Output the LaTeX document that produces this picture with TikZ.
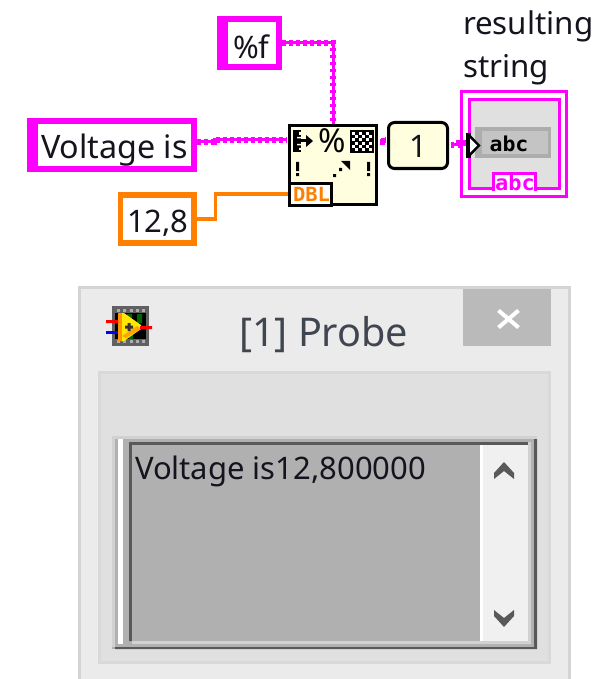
\documentclass[tikz,border=0pt]{standalone}
\usepackage{fontspec}
\setmainfont{Noto Sans}
\newfontfamily\monoglyph{DejaVu Sans Mono}[FakeStretch=1.05]
\definecolor{strpink}{HTML}{FF00FF}
\definecolor{dblorange}{HTML}{FF7F00}
\definecolor{cream}{HTML}{FFFFE0}
\definecolor{textdark}{HTML}{14141E}
\definecolor{titlecol}{HTML}{3F4650}
\tikzset{
  x=1pt,y=-1pt,
  box/.style={inner sep=0pt,outer sep=0pt,rectangle},
  outerpink/.style={box,fill=strpink},
  outerorange/.style={box,fill=dblorange},
  innerwhite/.style={box,fill=white},
  lbl/.style={inner sep=0pt,outer sep=0pt,anchor=base west,text=textdark},
  strcore/.style={draw=strpink,line width=3pt},
  strtick/.style={draw=strpink,line width=5.5pt,dash pattern=on 3.5pt off 3.5pt},
  numwire/.style={draw=dblorange,line width=3.3pt},
}
\begin{document}
\begin{tikzpicture}
\useasboundingbox (0,0) rectangle (603,679);
% --- block diagram: constants
\node[outerpink,minimum width=65pt,minimum height=54pt] (fmtc) at (249.5,43) {};
\node[innerwhite,minimum width=48pt,minimum height=42pt] at (252,43) {};
\node[lbl,font=\fontsize{31}{31}\selectfont] (fmtt) at (233,59) {\%f};
\node[outerpink,minimum width=170pt,minimum height=54pt] (volc) at (112,145) {};
\node[innerwhite,minimum width=153pt,minimum height=42pt] at (114.5,145) {};
\node[lbl,font=\fontsize{32.3}{32}\selectfont] (volt) at (41,158) {Voltage is};
\node[outerorange,minimum width=79pt,minimum height=54pt] (numc) at (157.5,219) {};
\node[innerwhite,minimum width=68pt,minimum height=42pt] at (157,219) {};
\node[lbl,font=\fontsize{31}{31}\selectfont] (numt) at (127,232) {12,8};
% --- wires
\coordinate (vout) at (197,142);
\coordinate (fnvin) at (286.5,140);
\coordinate (fnout) at (379.5,142);
\coordinate (onein) at (385.5,140);
\coordinate (oneout) at (450.5,145);
\coordinate (indin) at (466,143);
\coordinate (fntop) at (333,125);
\foreach \s in {strcore,strtick} {
  \draw[\s] (fmtc.east) -| (fntop);
  \draw[\s] (vout) -- ++(17,0) |- (fnvin);
  \draw[\s] (fnout) -- ++(3,0) |- (onein);
  \draw[\s] (oneout) -- ++(8,0) |- (indin);
}
% --- format function
\node[box,draw=black,line width=3pt,fill=cream,minimum width=87pt,minimum height=79pt] (fn) at (333,165) {};
\node[box,draw=black,line width=3pt,fill=white,minimum width=42pt,minimum height=22pt] (dbl) at (310.5,194) {};
\draw[numwire] (numc.east) -- ++(18.5,0) |- (dbl.west);
\fill[black] (288,182.5) rectangle (291,206);
\node[box,text=dblorange,font=\monoglyph\bfseries\fontsize{19.5}{19.5}\selectfont] (dblt) at (311.5,194.5) {DBL};
% format-into-string glyphs
\fill[black] (293,130) rectangle (301,152);
\fill[cream] (299,132) rectangle (301,135) (297,137) rectangle (301,138.5) (297,144) rectangle (301,145.5) (299,148) rectangle (301,150);
\fill[black] (301,139.5) rectangle (311,142.5);
\fill[black] (306,135) -- (313,141) -- (306,147) -- cycle;
\node[box,text=black,font=\bfseries\fontsize{33}{33}\selectfont] (pct) at (332.5,141) {\%};
\fill[black] (350,130) rectangle (374,153);
\foreach \i in {0,...,5} \foreach \j in {0,...,5} {
  \pgfmathparse{int(mod(\i+\j,2))}
  \ifnum\pgfmathresult=0 \fill[white] (352+\i*3.4,132+\j*3.2) rectangle ++(3,3); \fi
}
\fill[black] (296,162) rectangle (299,171) (296,173) rectangle (299,176);
\fill[black] (367,162) rectangle (370,171) (367,173) rectangle (370,176);
\fill[black] (341,161) -- (350,161) -- (350,170) -- cycle;
\fill[black] (339,168) rectangle (342,171) (333,174) rectangle (336,177);
% --- constant 1
\node[box,draw=black,line width=3pt,fill=cream,rounded corners=6pt,minimum width=59pt,minimum height=46pt] (one) at (418,145.5) {};
\node[box,text=textdark,font=\fontsize{31}{31}\selectfont] (onet) at (418,146) {1};
% --- indicator
\node[box,draw=strpink,line width=3pt,minimum width=105pt,minimum height=105pt] (indo) at (514,144) {};
\node[box,draw=strpink,line width=2.4pt,fill=black!12,minimum width=90pt,minimum height=89pt] (indi) at (514.5,144) {};
\node[box,fill=black!32,minimum width=76pt,minimum height=31pt] (field) at (513,142.5) {};
\node[box,fill=black!23,minimum width=66pt,minimum height=23pt] at (515,142.5) {};
\node[box,font=\monoglyph\bfseries\fontsize{20.5}{20.5}\selectfont,text=black] (fieldt) at (509,144) {abc};
\node[box,fill=white,minimum width=42pt,minimum height=17.5pt] (abc) at (514.5,182) {};
\draw[strpink,line width=3pt] (abc.south west) |- (abc.north east) -- (abc.south east);
\node[box,text=strpink,font=\monoglyph\bfseries\fontsize{21}{21}\selectfont] (abct) at (515,183) {abc};
\fill[black] (466,133) rectangle (471,158);
\fill[black] (471,135.5) -- (480.5,145.5) -- (471,155.5) -- cycle;
\fill[white] (470,138.5) -- (477,145.5) -- (470,152.5) -- cycle;
\node[lbl,font=\fontsize{31.3}{36}\selectfont] (res) at (463,35) {resulting};
\node[lbl,font=\fontsize{31.3}{36}\selectfont] (str) at (463,78) {string};
% --- probe window
\node[box,fill=black!8,draw=black!17,line width=3pt,minimum width=490pt,minimum height=400pt,anchor=north west] (win) at (79.5,287.5) {};
\node[box,fill=black!12,draw=black!15,line width=3pt,minimum width=450pt,minimum height=290pt,anchor=north west] (panel) at (99.5,372.5) {};
% probe icon
\node[box,fill=black!62,minimum width=37pt,minimum height=40pt,anchor=north west] (icon) at (112,306) {};
\fill[black] (115,313) rectangle (146,339);
\foreach \i in {0,...,4} {
  \fill[black!32] (117+\i*6.3,309) rectangle ++(3,3);
  \fill[black!32] (117+\i*6.3,340) rectangle ++(3,3);
}
\fill[green!40!black] (127,314) rectangle (132,318) (137,314) rectangle (142,323) (129,335) rectangle (133,339);
\fill[yellow!90!orange] (118,313) -- (124,313) -- (141,325) -- (141,329) -- (124,341) -- (118,341) -- cycle;
\fill[orange!85!yellow] (118,313) rectangle (122,341);
\fill[orange!70!yellow] (126,338) -- (141,329) -- (137,326) -- (122,336) -- cycle;
\fill[black!80] (125,325.5) rectangle (133,328.5) (127.5,323) rectangle (130.5,331);
\fill[red] (106,320) rectangle (118,323) (140,326) rectangle (152,329);
\fill[blue] (106,331) rectangle (118,334);
\node[lbl,text=titlecol,font=\fontsize{39.6}{39}\selectfont] (ttl) at (239,346) {[1] Probe};
\node[box,fill=black!27,minimum width=88pt,minimum height=57pt,anchor=north west] (close) at (463,289) {};
\draw[white,line width=4pt] (498.5,310.5) -- (518.5,327.5) (518.5,310.5) -- (498.5,327.5);
% list box
\node[box,fill=black!18,minimum width=425pt,minimum height=211pt,anchor=north west] (lb) at (112,436) {};
\fill[black!31] (115,439) rectangle (534,647);
\fill[black!31] (112,647) rectangle (115,649);
\fill[black!65] (534,439) rectangle (537,649) (115,647) rectangle (537,649);
\fill[white] (118,439) rectangle (123,644);
\fill[black!65] (129,442) rectangle (528,445) (129,442) rectangle (132,641);
\node[box,fill=black!31,minimum width=348pt,minimum height=196pt,anchor=north west] (txt) at (132,445) {};
\fill[black!18] (132,641) rectangle (531,644) (528,442) rectangle (531,644);
\fill[white] (480,445) rectangle (483,641);
\node[box,fill=black!6,minimum width=45pt,minimum height=196pt,anchor=north west] (scroll) at (483,445) {};
\node[lbl,font=\fontsize{31}{31}\selectfont] (val) at (135,479) {Voltage is12,800000};
\fill[black!65] (504,462) -- (514,473) -- (514,479) -- (504,471) -- (494,479) -- (494,473) -- cycle;
\fill[black!65] (504,627) -- (514,616) -- (514,610) -- (504,618) -- (494,610) -- (494,616) -- cycle;
\end{tikzpicture}
\end{document}
